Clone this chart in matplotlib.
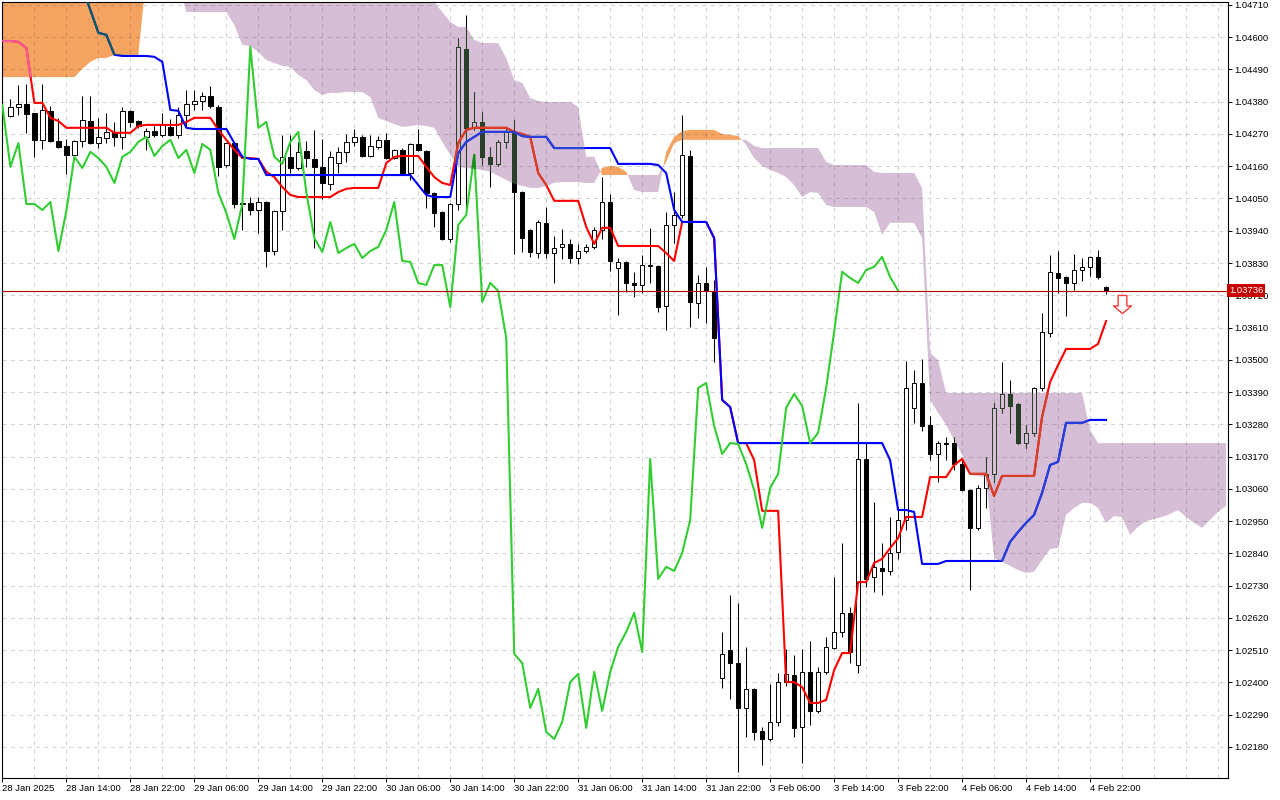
import numpy as np
import matplotlib.pyplot as plt
from matplotlib.path import Path
from matplotlib.colors import to_rgb
from matplotlib.transforms import blended_transform_factory

plt.rcParams['font.family'] = ['Liberation Sans', 'DejaVu Sans']
plt.rcParams['lines.scale_dashes'] = False

# EURUSD H1 with Ichimoku (9, 26, 52); candles are bars 1..138
opens = [
    1.04331, 1.04362, 1.04372, 1.04342, 1.04250, 1.04349, 1.04246, 1.04229, 1.04199, 1.04246,
    1.04314, 1.04239, 1.04256, 1.04277, 1.04260, 1.04349, 1.04314, 1.04260, 1.04280, 1.04267,
    1.04294, 1.04267, 1.04335, 1.04372, 1.04383, 1.04400, 1.04362, 1.04164, 1.04239, 1.04035,
    1.04035, 1.04011, 1.04038, 1.03871, 1.04008, 1.04192, 1.04154, 1.04212, 1.04185, 1.04158,
    1.04100, 1.04171, 1.04209, 1.04243, 1.04260, 1.04195, 1.04226, 1.04250, 1.04188, 1.04216,
    1.04137, 1.04236, 1.04212, 1.04069, 1.04004, 1.03912, 1.04031, 1.04560, 1.04291, 1.04311,
    1.04192, 1.04168, 1.04243, 1.04277, 1.04072, 1.03943, 1.03864, 1.03967, 1.03864, 1.03885,
    1.03895, 1.03847, 1.03871, 1.03885, 1.03943, 1.04038, 1.03813, 1.03834, 1.03762, 1.03755,
    1.03820, 1.03820, 1.03684, 1.03960, 1.03994, 1.04195, 1.03694, 1.03762, 1.03731, 1.02415,
    1.02511, 1.02466, 1.02313, 1.02378, 1.02234, 1.02207, 1.02265, 1.02401, 1.02425, 1.02248,
    1.02436, 1.02303, 1.02436, 1.02517, 1.02572, 1.02637, 1.02459, 1.03162, 1.02759, 1.02790,
    1.02780, 1.02845, 1.02954, 1.03336, 1.03421, 1.03278, 1.03179, 1.03216, 1.03216, 1.03145,
    1.03056, 1.02927, 1.03063, 1.03111, 1.03336, 1.03384, 1.03349, 1.03216, 1.03251, 1.03404,
    1.03592, 1.03796, 1.03782, 1.03762, 1.03806, 1.03817, 1.03851, 1.03748,
]
highs = [
    1.04389, 1.04437, 1.04441, 1.04342, 1.04441, 1.04366, 1.04325, 1.04253, 1.04250, 1.04400,
    1.04400, 1.04325, 1.04342, 1.04311, 1.04362, 1.04352, 1.04318, 1.04291, 1.04301, 1.04342,
    1.04321, 1.04362, 1.04420, 1.04420, 1.04413, 1.04434, 1.04369, 1.04239, 1.04243, 1.04079,
    1.04055, 1.04055, 1.04042, 1.04011, 1.04267, 1.04267, 1.04243, 1.04246, 1.04284, 1.04253,
    1.04212, 1.04226, 1.04270, 1.04287, 1.04267, 1.04267, 1.04263, 1.04274, 1.04219, 1.04222,
    1.04239, 1.04287, 1.04216, 1.04072, 1.04008, 1.04035, 1.04597, 1.04676, 1.04413, 1.04345,
    1.04226, 1.04250, 1.04294, 1.04318, 1.04076, 1.03946, 1.03977, 1.04021, 1.03922, 1.03946,
    1.03912, 1.03895, 1.03895, 1.03953, 1.04123, 1.04066, 1.03847, 1.03837, 1.03800, 1.03858,
    1.03950, 1.03823, 1.04004, 1.04072, 1.04335, 1.04216, 1.03789, 1.03817, 1.03772, 1.02572,
    1.02698, 1.02671, 1.02521, 1.02381, 1.02248, 1.02395, 1.02432, 1.02514, 1.02494, 1.02514,
    1.02541, 1.02453, 1.02555, 1.02759, 1.02875, 1.02657, 1.03353, 1.03216, 1.03015, 1.02875,
    1.02964, 1.02988, 1.03496, 1.03465, 1.03503, 1.03308, 1.03223, 1.03237, 1.03237, 1.03158,
    1.03060, 1.03073, 1.03169, 1.03353, 1.03493, 1.03431, 1.03353, 1.03278, 1.03407, 1.03660,
    1.03858, 1.03871, 1.03786, 1.03861, 1.03847, 1.03854, 1.03875, 1.03752,
]
lows = [
    1.04328, 1.04335, 1.04274, 1.04192, 1.04219, 1.04243, 1.04222, 1.04134, 1.04195, 1.04226,
    1.04236, 1.04222, 1.04239, 1.04229, 1.04219, 1.04294, 1.04291, 1.04216, 1.04260, 1.04260,
    1.04263, 1.04256, 1.04294, 1.04352, 1.04352, 1.04359, 1.04127, 1.04158, 1.04018, 1.03943,
    1.03994, 1.03933, 1.03817, 1.03858, 1.03943, 1.04137, 1.04147, 1.04158, 1.03881, 1.04048,
    1.04079, 1.04137, 1.04175, 1.04229, 1.04192, 1.04192, 1.04219, 1.04185, 1.04185, 1.04130,
    1.04113, 1.04212, 1.04018, 1.03953, 1.03909, 1.03902, 1.04011, 1.04014, 1.04284, 1.04164,
    1.04089, 1.04161, 1.04222, 1.03861, 1.03868, 1.03851, 1.03847, 1.03847, 1.03762, 1.03844,
    1.03830, 1.03827, 1.03864, 1.03878, 1.03912, 1.03803, 1.03653, 1.03731, 1.03714, 1.03728,
    1.03762, 1.03663, 1.03602, 1.03898, 1.03984, 1.03612, 1.03643, 1.03626, 1.03493, 1.02381,
    1.02343, 1.02095, 1.02214, 1.02204, 1.02118, 1.02200, 1.02251, 1.02388, 1.02214, 1.02125,
    1.02255, 1.02296, 1.02429, 1.02514, 1.02555, 1.02466, 1.02432, 1.02725, 1.02708, 1.02698,
    1.02766, 1.02821, 1.02920, 1.03285, 1.03257, 1.03158, 1.03083, 1.03158, 1.03124, 1.03053,
    1.02715, 1.02920, 1.02995, 1.03083, 1.03319, 1.03251, 1.03213, 1.03199, 1.03240, 1.03394,
    1.03578, 1.03728, 1.03649, 1.03738, 1.03769, 1.03786, 1.03776, 1.03725,
]
closes = [
    1.04362, 1.04372, 1.04338, 1.04250, 1.04352, 1.04246, 1.04226, 1.04199, 1.04246, 1.04318,
    1.04239, 1.04260, 1.04277, 1.04260, 1.04349, 1.04311, 1.04297, 1.04280, 1.04267, 1.04301,
    1.04267, 1.04335, 1.04372, 1.04383, 1.04400, 1.04366, 1.04158, 1.04239, 1.04031, 1.04031,
    1.04011, 1.04038, 1.03871, 1.04008, 1.04192, 1.04154, 1.04209, 1.04188, 1.04158, 1.04103,
    1.04192, 1.04209, 1.04243, 1.04260, 1.04195, 1.04229, 1.04250, 1.04188, 1.04216, 1.04137,
    1.04236, 1.04216, 1.04069, 1.04001, 1.03912, 1.04031, 1.04567, 1.04291, 1.04311, 1.04192,
    1.04168, 1.04243, 1.04277, 1.04072, 1.03915, 1.03868, 1.03970, 1.03864, 1.03881, 1.03895,
    1.03847, 1.03871, 1.03885, 1.03943, 1.04038, 1.03837, 1.03834, 1.03762, 1.03755, 1.03823,
    1.03823, 1.03680, 1.03960, 1.03994, 1.04199, 1.03697, 1.03762, 1.03735, 1.03574, 1.02497,
    1.02466, 1.02313, 1.02378, 1.02231, 1.02207, 1.02265, 1.02401, 1.02429, 1.02245, 1.02436,
    1.02303, 1.02436, 1.02521, 1.02572, 1.02637, 1.02504, 1.03162, 1.02753, 1.02794, 1.02780,
    1.02841, 1.02954, 1.03404, 1.03421, 1.03274, 1.03179, 1.03216, 1.03213, 1.03145, 1.03056,
    1.02927, 1.03063, 1.03111, 1.03336, 1.03384, 1.03343, 1.03216, 1.03251, 1.03404, 1.03595,
    1.03800, 1.03779, 1.03762, 1.03806, 1.03817, 1.03851, 1.03782, 1.03736,
]

# Tenkan-sen and Kijun-sen, bars 0..138
tenkan = [
    1.04587, 1.04587, 1.04584, 1.04563, 1.04376, 1.04376, 1.04325, 1.04314, 1.04291, 1.04291,
    1.04291, 1.04291, 1.04291, 1.04291, 1.04274, 1.04274, 1.04274, 1.04297, 1.04301, 1.04301,
    1.04301, 1.04301, 1.04301, 1.04311, 1.04325, 1.04325, 1.04325, 1.04284, 1.04250, 1.04216,
    1.04188, 1.04188, 1.04185, 1.04141, 1.04123, 1.04089, 1.04062, 1.04055, 1.04055, 1.04055,
    1.04055, 1.04055, 1.04072, 1.04083, 1.04086, 1.04086, 1.04086, 1.04086, 1.04171, 1.04192,
    1.04195, 1.04195, 1.04195, 1.04158, 1.04123, 1.04103, 1.04096, 1.04239, 1.04284, 1.04291,
    1.04291, 1.04291, 1.04291, 1.04291, 1.04277, 1.04270, 1.04260, 1.04137, 1.04096, 1.04042,
    1.04042, 1.04042, 1.04042, 1.03953, 1.03895, 1.03950, 1.03950, 1.03888, 1.03888, 1.03888,
    1.03888, 1.03888, 1.03888, 1.03864, 1.03837, 1.03970, 1.03970, 1.03970, 1.03970, 1.03915,
    1.03363, 1.03339, 1.03216, 1.03216, 1.03158, 1.02985, 1.02985, 1.02985, 1.02401, 1.02401,
    1.02384, 1.02330, 1.02330, 1.02340, 1.02442, 1.02500, 1.02500, 1.02742, 1.02742, 1.02807,
    1.02821, 1.02858, 1.02892, 1.02964, 1.02964, 1.02964, 1.03100, 1.03100, 1.03100, 1.03141,
    1.03162, 1.03111, 1.03111, 1.03111, 1.03036, 1.03104, 1.03104, 1.03104, 1.03104, 1.03104,
    1.03305, 1.03424, 1.03482, 1.03537, 1.03537, 1.03537, 1.03537, 1.03554, 1.03632,
]
kijun = [
    1.04768, 1.04768, 1.04768, 1.04768, 1.04768, 1.04768, 1.04768, 1.04768, 1.04768, 1.04768,
    1.04768, 1.04693, 1.04615, 1.04608, 1.04540, 1.04536, 1.04536, 1.04536, 1.04536, 1.04533,
    1.04516, 1.04352, 1.04349, 1.04291, 1.04287, 1.04287, 1.04287, 1.04287, 1.04287, 1.04239,
    1.04192, 1.04185, 1.04185, 1.04130, 1.04130, 1.04130, 1.04130, 1.04130, 1.04130, 1.04130,
    1.04130, 1.04130, 1.04130, 1.04130, 1.04130, 1.04130, 1.04130, 1.04130, 1.04130, 1.04130,
    1.04130, 1.04130, 1.04096, 1.04062, 1.04055, 1.04055, 1.04055, 1.04205, 1.04243, 1.04260,
    1.04277, 1.04277, 1.04277, 1.04277, 1.04277, 1.04263, 1.04260, 1.04260, 1.04260, 1.04222,
    1.04222, 1.04222, 1.04222, 1.04222, 1.04222, 1.04222, 1.04222, 1.04168, 1.04168, 1.04168,
    1.04168, 1.04168, 1.04164, 1.04137, 1.04011, 1.03970, 1.03970, 1.03970, 1.03970, 1.03915,
    1.03363, 1.03339, 1.03216, 1.03216, 1.03216, 1.03216, 1.03216, 1.03216, 1.03216, 1.03216,
    1.03216, 1.03216, 1.03216, 1.03216, 1.03216, 1.03216, 1.03216, 1.03216, 1.03216, 1.03216,
    1.03216, 1.03158, 1.02988, 1.02988, 1.02981, 1.02804, 1.02804, 1.02804, 1.02814, 1.02814,
    1.02814, 1.02814, 1.02814, 1.02814, 1.02814, 1.02814, 1.02879, 1.02913, 1.02944, 1.02971,
    1.03046, 1.03141, 1.03152, 1.03285, 1.03285, 1.03285, 1.03295, 1.03295, 1.03295,
]

# Senkou span A / B as displayed (already shifted 26 bars ahead), bars 0..153
span_a = [
    1.04778, 1.04778, 1.04778, 1.04778, 1.04778, 1.04778, 1.04778, 1.04778, 1.04778, 1.04778,
    1.04778, 1.04778, 1.04778, 1.04778, 1.04778, 1.04778, 1.04778, 1.04778, 1.04778, 1.04778,
    1.04778, 1.04778, 1.04778, 1.04686, 1.04686, 1.04686, 1.04686, 1.04686, 1.04686, 1.04642,
    1.04574, 1.04570, 1.04550, 1.04522, 1.04512, 1.04502, 1.04499, 1.04471, 1.04454, 1.04420,
    1.04403, 1.04410, 1.04410, 1.04413, 1.04413, 1.04413, 1.04396, 1.04325, 1.04314, 1.04304,
    1.04294, 1.04297, 1.04301, 1.04297, 1.04291, 1.04243, 1.04199, 1.04158, 1.04154, 1.04151,
    1.04147, 1.04141, 1.04127, 1.04113, 1.04100, 1.04093, 1.04086, 1.04086, 1.04093, 1.04103,
    1.04106, 1.04106, 1.04106, 1.04103, 1.04103, 1.04154, 1.04161, 1.04158, 1.04141, 1.04079,
    1.04072, 1.04072, 1.04072, 1.04209, 1.04260, 1.04280, 1.04284, 1.04284, 1.04284, 1.04284,
    1.04270, 1.04267, 1.04263, 1.04233, 1.04188, 1.04161, 1.04147, 1.04137, 1.04123, 1.04096,
    1.04055, 1.04072, 1.04069, 1.04028, 1.04021, 1.04021, 1.04021, 1.04021, 1.04021, 1.04004,
    1.03926, 1.03967, 1.03967, 1.03967, 1.03967, 1.03915, 1.03363, 1.03319, 1.03278, 1.03227,
    1.03176, 1.03107, 1.03104, 1.03100, 1.02824, 1.02811, 1.02797, 1.02783, 1.02773, 1.02777,
    1.02817, 1.02855, 1.02858, 1.02971, 1.02995, 1.03012, 1.03012, 1.02995, 1.02944, 1.02967,
    1.02964, 1.02903, 1.02930, 1.02950, 1.02957, 1.02964, 1.02974, 1.02988, 1.02964, 1.02944,
    1.02927, 1.02954, 1.02981, 1.03002,
]
span_b = [
    1.04464, 1.04464, 1.04464, 1.04464, 1.04464, 1.04464, 1.04464, 1.04464, 1.04464, 1.04464,
    1.04492, 1.04516, 1.04529, 1.04529, 1.04540, 1.04540, 1.04540, 1.04540, 1.04812, 1.04812,
    1.04812, 1.04812, 1.04812, 1.04812, 1.04812, 1.04812, 1.04812, 1.04812, 1.04812, 1.04812,
    1.04812, 1.04812, 1.04812, 1.04812, 1.04812, 1.04812, 1.04812, 1.04812, 1.04812, 1.04812,
    1.04812, 1.04812, 1.04812, 1.04812, 1.04812, 1.04812, 1.04812, 1.04812, 1.04812, 1.04812,
    1.04812, 1.04812, 1.04812, 1.04812, 1.04720, 1.04686, 1.04652, 1.04635, 1.04635, 1.04591,
    1.04580, 1.04580, 1.04580, 1.04529, 1.04454, 1.04444, 1.04393, 1.04383, 1.04379, 1.04379,
    1.04379, 1.04379, 1.04362, 1.04192, 1.04192, 1.04130, 1.04130, 1.04130, 1.04130, 1.04130,
    1.04130, 1.04130, 1.04130, 1.04175, 1.04239, 1.04250, 1.04250, 1.04250, 1.04250, 1.04250,
    1.04250, 1.04250, 1.04250, 1.04250, 1.04229, 1.04222, 1.04222, 1.04222, 1.04222, 1.04222,
    1.04222, 1.04222, 1.04222, 1.04175, 1.04164, 1.04164, 1.04164, 1.04164, 1.04164, 1.04141,
    1.04137, 1.04137, 1.04137, 1.04137, 1.04137, 1.04086, 1.03523, 1.03499, 1.03387, 1.03387,
    1.03387, 1.03387, 1.03387, 1.03387, 1.03387, 1.03387, 1.03387, 1.03387, 1.03387, 1.03387,
    1.03387, 1.03387, 1.03387, 1.03387, 1.03387, 1.03387, 1.03261, 1.03216, 1.03216, 1.03216,
    1.03216, 1.03216, 1.03216, 1.03216, 1.03216, 1.03216, 1.03216, 1.03216, 1.03216, 1.03216,
    1.03216, 1.03216, 1.03216, 1.03216,
]

price_ticks = [
    1.04710, 1.04600, 1.04490, 1.04380, 1.04270, 1.04160, 1.04050, 1.03940,
    1.03830, 1.03720, 1.03610, 1.03500, 1.03390, 1.03280, 1.03170, 1.03060,
    1.02950, 1.02840, 1.02730, 1.02620, 1.02510, 1.02400, 1.02290, 1.02180,
]
time_labels = [
    '28 Jan 2025', '28 Jan 14:00', '28 Jan 22:00', '29 Jan 06:00', '29 Jan 14:00',
    '29 Jan 22:00', '30 Jan 06:00', '30 Jan 14:00', '30 Jan 22:00', '31 Jan 06:00',
    '31 Jan 14:00', '31 Jan 22:00', '3 Feb 06:00', '3 Feb 14:00', '3 Feb 22:00',
    '4 Feb 06:00', '4 Feb 14:00', '4 Feb 22:00',
]
last_price = 1.03736
signal_bar = 140
signal_price = 1.03690
chikou_shift = 26

ORANGE = '#F4A460'
PURPLE = '#D5BED6'

bar_x = np.arange(1, len(closes) + 1)
line_x = np.arange(len(tenkan))
chikou_x = bar_x - chikou_shift
o = np.array(opens)
c = np.array(closes)
body_lo = np.minimum(o, c)
body_h = np.maximum(np.abs(c - o), 0.00003)

fig = plt.figure(figsize=(12.8, 8), dpi=100, facecolor='white')
ax = fig.add_axes([2 / 1280, 22 / 800, 1226 / 1280, 776 / 800])
ax.set_xlim(-0.05, 153.25)
ax.set_ylim(1.02074, 1.04720)

# kumo
sa = np.array(span_a)
sb = np.array(span_b)
sx = np.arange(len(sa))
kumo_up = ax.fill_between(sx, sa, sb, where=sa >= sb, interpolate=True,
                          color=ORANGE, lw=0, zorder=1)
kumo_dn = ax.fill_between(sx, sa, sb, where=sa < sb, interpolate=True,
                          color=PURPLE, lw=0, zorder=1)

# grid
for gx in range(0, 154, 4):
    ax.axvline(gx, color='#505050', alpha=0.25, lw=0.75, ls=(0, (3, 3)), zorder=2)
for gy in price_ticks:
    ax.axhline(gy, color='#505050', alpha=0.25, lw=0.75, ls=(0, (3, 3)), zorder=2)


def xor_color(color, cloud):
    r, g, b = (int(round(v * 255)) for v in to_rgb(color))
    cr, cg, cb = (int(round(v * 255)) for v in to_rgb(cloud))
    return '#%02x%02x%02x' % (r ^ (255 - cr), g ^ (255 - cg), b ^ (255 - cb))


def draw_chart(cloud=None, clip=None, dz=0.0):
    # MT4 paints the kumo in xor mode, so everything inside it changes colour
    def col(cc):
        return cc if cloud is None else xor_color(cc, cloud)

    arts = [ax.vlines(bar_x, lows, highs, colors=col('#000000'), lw=0.75, zorder=3 + dz)]
    faces = [col('#FFFFFF') if cl >= op else col('#000000') for op, cl in zip(opens, closes)]
    body = ax.bar(bar_x, body_h, bottom=body_lo, width=0.56, color=faces,
                  edgecolor=col('#000000'), lw=0.7, zorder=3.1 + dz)
    arts.extend(body.patches)
    arts += ax.plot(line_x, tenkan, color=col('#FF0000'), lw=1.5, zorder=4 + dz)
    arts += ax.plot(line_x, kijun, color=col('#0000FF'), lw=1.5, zorder=4.1 + dz)
    arts += ax.plot(chikou_x, closes, color=col('#32CD32'), lw=1.5, zorder=4.2 + dz)
    if clip is not None:
        for a in arts:
            a.set_clip_path(clip, ax.transData)


draw_chart()
for coll, cloud, dz in [(kumo_dn, PURPLE, 0.5), (kumo_up, ORANGE, 0.6)]:
    paths = coll.get_paths()
    if paths:
        draw_chart(cloud, Path.make_compound_path(*paths), dz)

# current bid line and label
ax.axhline(last_price, color='#B40000', lw=0.8, zorder=5)
ax.text(1.0009, last_price, '%.5f' % last_price, color='white', fontsize=6.8,
        ha='left', va='center', zorder=20, clip_on=False,
        transform=blended_transform_factory(ax.transAxes, ax.transData),
        bbox=dict(boxstyle='square,pad=0.18', fc='#C80000', ec='none'))

# sell signal arrow
arrow = Path([(-0.24, 0.5), (0.24, 0.5), (0.24, -0.08), (0.5, -0.08), (0.0, -0.5),
              (-0.5, -0.08), (-0.24, -0.08), (-0.24, 0.5)],
             [Path.MOVETO] + [Path.LINETO] * 6 + [Path.CLOSEPOLY])
ax.plot([signal_bar], [signal_price], marker=arrow, markersize=13, color='none',
        markerfacecolor='white', markeredgecolor='#F03C3C', markeredgewidth=1.0,
        zorder=6, clip_on=False)

# axes
ax.yaxis.tick_right()
ax.set_yticks(price_ticks)
ax.set_yticklabels(['%.5f' % p for p in price_ticks])
ax.set_xticks(np.arange(0, 8 * len(time_labels), 8))
ax.set_xticklabels(time_labels)
for lab in ax.get_xticklabels():
    lab.set_horizontalalignment('left')
ax.tick_params(axis='y', direction='out', length=3, width=0.7, pad=1.5,
               labelsize=6.8, colors='black')
ax.tick_params(axis='x', direction='out', length=3, width=0.7, pad=1.5,
               labelsize=6.8, colors='black')
for sp in ax.spines.values():
    sp.set_color('black')
    sp.set_linewidth(0.8)

fig.savefig('out.png', dpi=100, facecolor='white')
